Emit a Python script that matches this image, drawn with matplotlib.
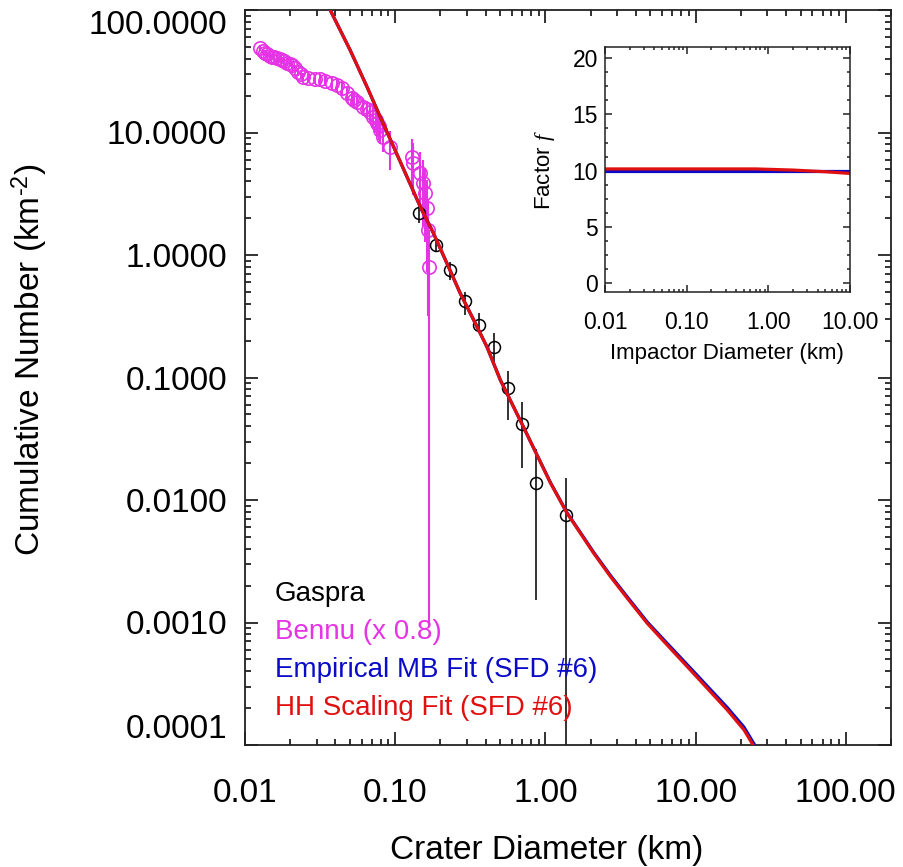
import numpy as np
import matplotlib
matplotlib.use('Agg')
import matplotlib.pyplot as plt
from matplotlib.ticker import LogLocator, NullFormatter, MultipleLocator

plt.rcParams['font.family'] = ['Liberation Sans', 'DejaVu Sans']
plt.rcParams['mathtext.fontset'] = 'custom'
plt.rcParams['mathtext.rm'] = 'Liberation Sans'
plt.rcParams['mathtext.it'] = 'Liberation Serif:italic'

#--datos: Gaspra (circulos negros)
gaspra_d = [0.145, 0.188, 0.233, 0.290, 0.361, 0.452, 0.564, 0.700, 0.871, 1.38]
gaspra_n = [2.21, 1.21, 0.755, 0.421, 0.268, 0.178, 0.082, 0.0415, 0.0138, 0.00755]
gaspra_hi = [2.66, 1.34, 0.881, 0.501, 0.334, 0.230, 0.113, 0.0634, 0.0259, 0.0152]
gaspra_lo = [1.82, 1.05, 0.625, 0.324, 0.230, 0.122, 0.045, 0.0181, 0.00153, 1e-7]

#--datos: Bennu (x 0.8)
bennu_d = [0.0125, 0.0132, 0.0136, 0.0140, 0.0146, 0.0151, 0.0157, 0.0163, 0.0170,
           0.0176, 0.0183, 0.0190, 0.0198, 0.0205, 0.0216, 0.0227, 0.0236, 0.0245,
           0.0264, 0.0292, 0.0316, 0.0341, 0.0380, 0.0408, 0.0441, 0.0476, 0.0514,
           0.0530, 0.0556, 0.0615, 0.0650, 0.0681, 0.0716, 0.0740, 0.0755, 0.0780,
           0.0794, 0.0828, 0.0927, 0.129, 0.132, 0.147, 0.152, 0.158, 0.163, 0.166, 0.169]
bennu_n = [49.0, 46.0, 44.5, 43.5, 42.5, 41.6, 41.0, 40.3, 39.8,
           39.1, 38.0, 37.2, 36.5, 35.6, 33.4, 31.4, 30.0, 28.6,
           27.7, 27.5, 27.2, 26.5, 25.5, 24.4, 22.9, 20.9, 19.0,
           18.5, 17.8, 16.2, 15.5, 14.8, 13.5, 12.7, 11.9, 11.2,
           10.5, 9.24, 7.66, 6.34, 5.61, 4.65, 3.85, 3.19, 2.41, 1.60, 0.80]
bennu_err = [0.05, 0.05, 0.05, 0.05, 0.05, 0.05, 0.06, 0.06, 0.06,
             0.06, 0.06, 0.07, 0.07, 0.07, 0.07, 0.08, 0.08, 0.08,
             0.09, 0.09, 0.10, 0.10, 0.11, 0.12, 0.12, 0.13, 0.14,
             0.14, 0.15, 0.16, 0.17, 0.18, 0.19, 0.20, 0.21, 0.22,
             0.23, 0.25, 0.35, 0.40, 0.45, 0.50, 0.55, 0.60, 0.70, 0.80, 0.9988]

#--curvas de ajuste
fit_d = [0.0369, 0.0501, 0.0648, 0.0794, 0.0975, 0.1197, 0.1468, 0.180, 0.221, 0.271,
         0.333, 0.408, 0.501, 0.700, 1.08, 1.395, 1.711, 2.099, 2.712, 3.505, 4.764,
         6.47, 8.80, 11.97, 16.26, 20.99, 24.5]
hh_n = [100.0, 47.1, 23.7, 13.46, 7.66, 4.36, 2.48, 1.50, 0.855, 0.487,
        0.295, 0.178, 0.0955, 0.0415, 0.0138, 0.00778, 0.00535, 0.00367, 0.00237, 0.00158, 0.000985,
        0.000655, 0.000436, 0.000290, 0.000193, 0.000133, 0.0000969]
mb_n = [100.0, 47.1, 23.7, 13.46, 7.66, 4.36, 2.48, 1.50, 0.855, 0.487,
        0.295, 0.178, 0.0955, 0.0415, 0.0139, 0.00785, 0.00542, 0.00373, 0.00242, 0.00162, 0.00101,
        0.000675, 0.000452, 0.000302, 0.000202, 0.000140, 0.000102]

#--factor f (inset)
imp_d = [0.01, 0.1, 0.7, 2.0, 5.0, 10.0]
f_hh = [10.15, 10.15, 10.15, 10.05, 9.9, 9.75]
f_mb = [10.0, 10.0, 10.0, 10.0, 10.0, 10.0]

magenta = '#e633e6'
red = '#e01010'
blue = '#0a0ac8'

fig = plt.figure(figsize=(9.04, 8.67), dpi=100)
ax = fig.add_axes([245/904, 1-745/867, 646/904, 735/867])

b_n = np.array(bennu_n)
b_e = np.array(bennu_err)
ax.errorbar(bennu_d, bennu_n, yerr=[b_n*b_e, b_n*b_e], fmt='o', mfc='none', mec=magenta,
            ecolor=magenta, ms=9.6, mew=1.2, elinewidth=1.5, capsize=0, zorder=3)
g_n = np.array(gaspra_n)
ax.errorbar(gaspra_d, gaspra_n, yerr=[g_n-np.array(gaspra_lo), np.array(gaspra_hi)-g_n], fmt='o',
            mfc='none', mec='black', ecolor='#222222', ms=8.6, mew=1.1, elinewidth=1.3, capsize=0, zorder=4)
ax.plot(fit_d, mb_n, color=blue, lw=2.3, zorder=5)
ax.plot(fit_d, hh_n, color=red, lw=2.3, zorder=6)

ax.set_xscale('log')
ax.set_yscale('log')
ax.set_xlim(0.01, 200)
ax.set_ylim(1e-4, 100)
ax.set_xticks([0.01, 0.1, 1, 10, 100])
ax.set_xticklabels(['0.01', '0.10', '1.00', '10.00', '100.00'])
ax.set_yticks([1e-4, 1e-3, 1e-2, 0.1, 1, 10, 100])
ylabs = ax.set_yticklabels(['0.0001', '0.0010', '0.0100', '0.1000', '1.0000', '10.0000', '100.0000'])
ylabs[0].set_va('bottom')
ylabs[-1].set_va('top')
ax.xaxis.set_minor_locator(LogLocator(subs=np.arange(2, 10)))
ax.yaxis.set_minor_locator(LogLocator(subs=np.arange(2, 10)))
ax.xaxis.set_minor_formatter(NullFormatter())
ax.yaxis.set_minor_formatter(NullFormatter())
ax.tick_params(which='both', direction='in', top=True, right=True, color='#222222', width=1.3)
ax.tick_params(which='major', length=9.5)
ax.tick_params(which='minor', length=4.5)
ax.tick_params(axis='x', labelsize=24, pad=24)
ax.tick_params(axis='y', labelsize=24, pad=13)
for s in ax.spines.values():
    s.set_linewidth(1.3)
    s.set_color('#222222')

fig.text(547/904, 1-850/867, 'Crater Diameter (km)', fontsize=24, ha='center', va='center')
fig.text(30/904, 1-360/867, r'Cumulative Number (km$^{\text{-2}}$)', fontsize=24,
         ha='center', va='center', rotation=90)

#--leyenda como texto
leg = [('Gaspra', 'black'), ('Bennu (x 0.8)', magenta),
       ('Empirical MB Fit (SFD #6)', blue), ('HH Scaling Fit (SFD #6)', red)]
for i, (t, c) in enumerate(leg):
    fig.text(275/904, 1-(594+38*i)/867, t, fontsize=20, color=c, ha='left', va='center')

#--inset: factor f
ax2 = fig.add_axes([605/904, 1-292/867, 245/904, 245/867])
ax2.plot(imp_d, f_mb, color=blue, lw=2.3)
ax2.plot(imp_d, f_hh, color=red, lw=2.3)
ax2.set_xscale('log')
ax2.set_xlim(0.01, 10)
ax2.set_ylim(-0.8, 21)
ax2.set_xticks([0.01, 0.1, 1, 10])
ax2.set_xticklabels(['0.01', '0.10', '1.00', '10.00'])
ax2.set_yticks([0, 5, 10, 15, 20])
ax2.yaxis.set_minor_locator(MultipleLocator(1.25))
ax2.xaxis.set_minor_locator(LogLocator(subs=np.arange(2, 10)))
ax2.xaxis.set_minor_formatter(NullFormatter())
ax2.tick_params(which='both', direction='in', top=True, right=True, color='#222222', width=1.1, labelsize=16.5)
ax2.tick_params(which='major', length=5)
ax2.tick_params(which='minor', length=2.5)
ax2.tick_params(axis='x', pad=14)
ax2.tick_params(axis='y', pad=5)
for s in ax2.spines.values():
    s.set_linewidth(1.1)
    s.set_color('#222222')
fig.text(727/904, 1-353/867, 'Impactor Diameter (km)', fontsize=16, ha='center', va='center')
fig.text(545/904, 1-170/867, 'Factor $f$', fontsize=16, ha='center', va='center', rotation=90)

plt.savefig('out.png', dpi=100)
